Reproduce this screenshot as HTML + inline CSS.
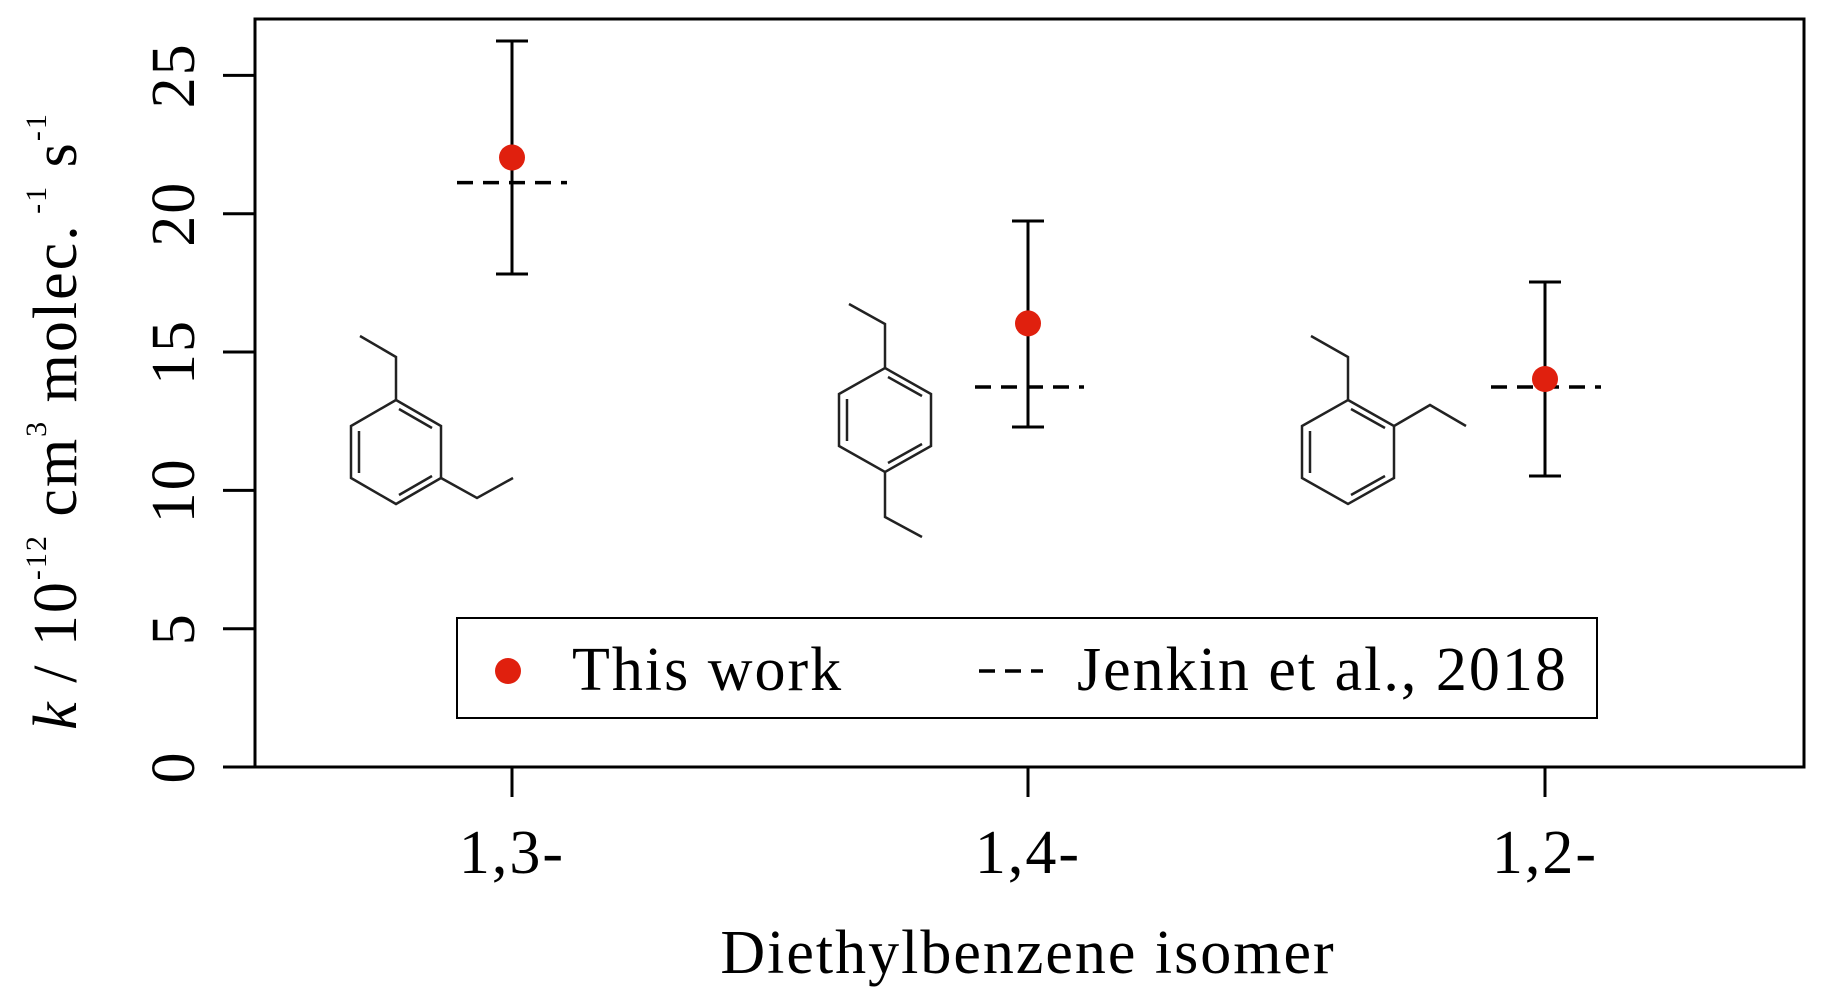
<!DOCTYPE html>
<html><head><meta charset="utf-8"><style>html,body{margin:0;padding:0;background:#fff}svg{display:block}</style></head>
<body>
<svg width="1824" height="1007" viewBox="0 0 1824 1007" xmlns="http://www.w3.org/2000/svg" font-family="Liberation Serif, serif" fill="#000">
<rect x="255" y="19" width="1549" height="748" fill="none" stroke="#000" stroke-width="3"/>
<g stroke="#000" stroke-width="3">
<line x1="223" y1="767" x2="255" y2="767"/>
<line x1="223" y1="628.7" x2="255" y2="628.7"/>
<line x1="223" y1="490.4" x2="255" y2="490.4"/>
<line x1="223" y1="352" x2="255" y2="352"/>
<line x1="223" y1="213.7" x2="255" y2="213.7"/>
<line x1="223" y1="75.4" x2="255" y2="75.4"/>
<line x1="512" y1="767" x2="512" y2="797"/>
<line x1="1028" y1="767" x2="1028" y2="797"/>
<line x1="1545" y1="767" x2="1545" y2="797"/>
</g>
<g font-size="62" text-anchor="middle" letter-spacing="2">
<text transform="translate(194,767) rotate(-90)">0</text>
<text transform="translate(194,628.7) rotate(-90)">5</text>
<text transform="translate(194,490.4) rotate(-90)">10</text>
<text transform="translate(194,352) rotate(-90)">15</text>
<text transform="translate(194,213.7) rotate(-90)">20</text>
<text transform="translate(194,75.4) rotate(-90)">25</text>
<text x="512" y="873">1,3-</text>
<text x="1028" y="873">1,4-</text>
<text x="1545" y="873">1,2-</text>
<text x="1028" y="973">Diethylbenzene isomer</text>
<text transform="translate(76,421) rotate(-90)"><tspan font-style="italic">k</tspan> / 10<tspan font-size="30" dy="-30">-12</tspan><tspan dy="30"> cm</tspan><tspan font-size="30" dy="-30">3</tspan><tspan dy="30"> molec.</tspan><tspan font-size="30" dy="-30"> -1</tspan><tspan dy="30"> s</tspan><tspan font-size="30" dy="-30">-1</tspan></text>
</g>
<g stroke="#000" stroke-width="3">
<line x1="512" y1="41" x2="512" y2="274"/><line x1="496" y1="41" x2="528" y2="41"/><line x1="496" y1="274" x2="528" y2="274"/>
<line x1="1028" y1="221" x2="1028" y2="427"/><line x1="1012" y1="221" x2="1044" y2="221"/><line x1="1012" y1="427" x2="1044" y2="427"/>
<line x1="1545" y1="282" x2="1545" y2="476"/><line x1="1529" y1="282" x2="1561" y2="282"/><line x1="1529" y1="476" x2="1561" y2="476"/>
</g>
<g stroke="#000" stroke-width="3.5" stroke-dasharray="16,10">
<line x1="457" y1="182.6" x2="567" y2="182.6"/>
<line x1="975" y1="387" x2="1084" y2="387"/>
<line x1="1491" y1="387" x2="1601" y2="387"/>
</g>
<g fill="#e0200e">
<circle cx="512" cy="157.5" r="13"/>
<circle cx="1028" cy="323.4" r="13"/>
<circle cx="1545" cy="379" r="13"/>
</g>
<g fill="none" stroke="#222" stroke-width="2.5">
<g transform="translate(396,452)">
<polygon points="0,-52 45,-26 45,26 0,52 -45,26 -45,-26"/>
<line x1="3" y1="-43" x2="36" y2="-24"/><line x1="-37" y1="-21" x2="-37" y2="21"/><line x1="36" y1="24" x2="3" y2="43"/>
<polyline points="0,-52 0,-95 -36,-116"/>
<polyline points="45,26 81,46 117,26"/>
</g>
<g transform="translate(885,420)">
<polygon points="0,-52 46,-26 46,26 0,52 -46,26 -46,-26"/>
<line x1="3" y1="-43" x2="37" y2="-24"/><line x1="-38" y1="-21" x2="-38" y2="21"/><line x1="37" y1="24" x2="3" y2="43"/>
<polyline points="0,-52 0,-96 -36,-116"/>
<polyline points="0,52 0,97 37,117"/>
</g>
<g transform="translate(1348,452)">
<polygon points="0,-52 46,-26 46,26 0,52 -46,26 -46,-26"/>
<line x1="3" y1="-43" x2="37" y2="-24"/><line x1="-38" y1="-21" x2="-38" y2="21"/><line x1="37" y1="24" x2="3" y2="43"/>
<polyline points="0,-52 0,-95 -37,-116"/>
<polyline points="46,-26 82,-47 118,-26"/>
</g>
</g>
<rect x="457" y="618" width="1140" height="100" fill="#fff" stroke="#000" stroke-width="2"/>
<circle cx="508" cy="671" r="13" fill="#e0200e"/>
<line x1="979" y1="671" x2="1043" y2="671" stroke="#000" stroke-width="3.5" stroke-dasharray="16,10"/>
<g font-size="62" letter-spacing="2">
<text x="572" y="690">This work</text>
<text x="1077" y="690">Jenkin et al., 2018</text>
</g>
</svg>
</body></html>
